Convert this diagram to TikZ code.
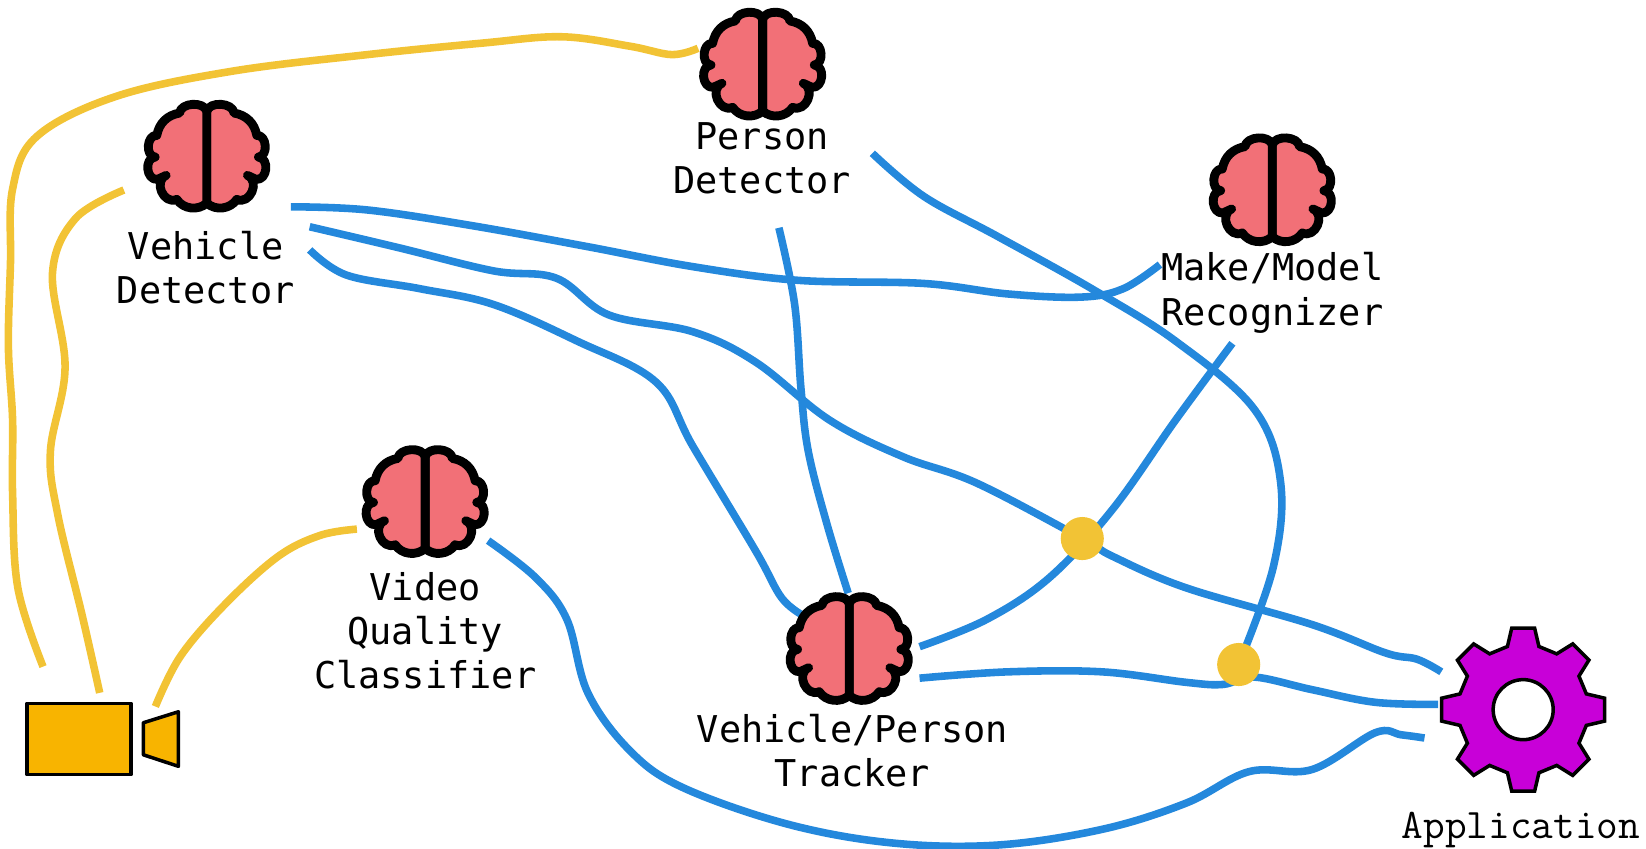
\documentclass[tikz,border=0pt]{standalone}
\usepackage{fontspec}
\newfontfamily\labelfont{DejaVu Sans Mono}
\usetikzlibrary{positioning}
\definecolor{brainred}{HTML}{F27077}
\definecolor{wireblue}{HTML}{2488DC}
\definecolor{wireyellow}{HTML}{F2C335}
\definecolor{camorange}{HTML}{F8B400}
\definecolor{gearpurple}{HTML}{C800D8}

% one half of the brain: mirror factor, bend side
\newcommand{\brainhalf}[2]{
  \draw[fill=brainred,line width=2.4pt,line join=round,scale=0.3175]
    (0,-132) to[bend #2=80] (#1*82,-127)
    to[bend #2=35] (#1*150,-60)
    to[bend #2=90,looseness=1.2] (#1*155,5)
    to[bend #2=90,looseness=1.3] (#1*148,72)
    -- (#1*122,60)
    to[bend #2=90,looseness=1.4] (#1*90,132)
    to[bend #2=50] (0,143) -- cycle;
}

\tikzset{
  bluewire/.style={draw=wireblue,line width=2.05pt},
  yellowwire/.style={draw=wireyellow,line width=2.05pt},
  labeltext/.style={font=\labelfont\fontsize{10}{12}\selectfont,align=center,inner sep=0pt},
  camerapart/.style={draw=black,fill=camorange,line width=0.95pt,line join=round},
  joint/.style={circle,fill=wireyellow,minimum size=11.4mm*0.36,inner sep=0pt},
  brain/.pic={
    \brainhalf{1}{left}
    \brainhalf{-1}{right}
  }
}

\begin{document}
\begin{tikzpicture}[x=0.01cm,y=-0.01cm]
  \useasboundingbox (0,0) rectangle (1568,808.7);

  % wire ends
  \coordinate (camA) at (41,635);
  \coordinate (camB) at (95,660);
  \coordinate (camC) at (148,673);
  \coordinate (persA) at (665,46);
  \coordinate (vehA) at (118,181);
  \coordinate (vidA) at (340,504);
  \coordinate (vehB) at (277,197);
  \coordinate (makeA) at (1105,252);
  \coordinate (vehC) at (295,216);
  \coordinate (appA) at (1373,640);
  \coordinate (vehD) at (295,238);
  \coordinate (trackA) at (768,588);
  \coordinate (persB) at (742,217);
  \coordinate (trackB) at (808,565);
  \coordinate (persC) at (831,146);
  \coordinate (makeB) at (1174,327);
  \coordinate (trackC) at (876,616);
  \coordinate (trackD) at (876,646);
  \coordinate (appB) at (1370,671);
  \coordinate (vidB) at (465,515);
  \coordinate (appC) at (1357,703);
  \coordinate (jointA) at (1031,513);
  \coordinate (jointB) at (1180,633);

  % camera feeds
  \draw[yellowwire] plot[smooth,tension=0.6] coordinates {(camA) (17,560) (12,470) (12,400) (8,330)
    (10,250) (12,180) (35,130) (110,92) (220,68) (350,52) (460,41) (535,35) (600,44) (640,52) (persA)};
  \draw[yellowwire] plot[smooth,tension=0.6] coordinates {(camB) (78,585) (55,490) (48,430) (62,350)
    (50,260) (72,208) (vehA)};
  \draw[yellowwire] plot[smooth,tension=0.6] coordinates {(camC) (172,625) (215,575) (265,530) (305,510) (vidA)};

  % model outputs
  \draw[bluewire] plot[smooth,tension=0.6] coordinates {(vehB) (350,200) (450,215) (560,235) (660,254) (760,267)
    (880,270) (960,280) (1030,283) (1070,275) (makeA)};
  \draw[bluewire] plot[smooth,tension=0.6] coordinates {(vehC) (380,236) (470,258) (530,265) (580,300)
    (660,316) (720,345) (790,400) (860,435) (930,460) (jointA) (1060,530) (1130,560) (1250,595)
    (1320,622) (1350,628) (appA)};
  \draw[bluewire] plot[smooth,tension=0.6] coordinates {(vehD) (330,262) (400,275) (470,290) (550,325)
    (625,364) (660,425) (720,525) (745,570) (trackA)};
  \draw[bluewire] plot[smooth,tension=0.6] coordinates {(persB) (757,290) (763,370) (770,430) (788,500) (trackB)};
  \draw[bluewire] plot[smooth,tension=0.6] coordinates {(persC) (880,187) (950,225) (1040,275) (1120,325)
    (1195,390) (1220,460) (1213,540) (jointB)};
  \draw[bluewire] plot[smooth,tension=0.6] coordinates {(makeB) (1120,400) (1060,485) (1000,550)
    (940,590) (trackC)};
  \draw[bluewire] plot[smooth,tension=0.6] coordinates {(trackD) (960,640) (1050,640) (1130,650)
    (1165,652) (1195,645) (1250,657) (1310,669) (appB)};
  \draw[bluewire] plot[smooth,tension=0.6] coordinates {(vidB) (510,550) (540,590) (560,660) (600,715)
    (650,750) (750,785) (850,803) (950,805) (1050,790) (1130,765) (1190,735) (1250,733) (1310,698)
    (1335,700) (appC)};

  \node[joint] (dotA) at (jointA) {};
  \node[joint] (dotB) at (jointB) {};

  % models
  \pic (persbrain) at (726.5,60.3) {brain};
  \pic (vehbrain) at (197,148) {brain};
  \pic (makebrain) at (1212,180) {brain};
  \pic (vidbrain) at (405,477) {brain};
  \pic (trackbrain) at (809,617) {brain};

  \node[labeltext] (perslabel) at (726,151) {Person\\Detector};
  \node[labeltext] (vehlabel) at (196,255) {Vehicle\\Detector};
  \node[labeltext] (makelabel) at (1212,279) {Make/Model\\Recognizer};
  \node[labeltext] (vidlabel) at (405,601) {Video\\Quality\\Classifier};
  \node[labeltext] (tracklabel) at (812,715) {Vehicle/Person\\Tracker};

  % camera
  \draw[camerapart] (25.7,670) rectangle (124.8,738);
  \draw[camerapart] (136.5,688.5) -- (170,678) -- (170,730) -- (136.5,719) -- cycle;

  % application gear
  \coordinate (gearcenter) at (1451,676);
  \draw[line width=0.95pt,line join=miter,fill=gearpurple,even odd rule,shift={(gearcenter)}]
    (-14:62)
    \foreach \a in {0,45,...,315} {
      -- ({\a-14}:62) -- ({\a-8}:78.4) -- ({\a+8}:78.4) -- ({\a+14}:62)
    } -- cycle
    (0,0) circle (28.6);
  \node[font=\ttfamily\fontsize{11.4}{13}\selectfont,inner sep=0pt] (applabel) at (1449,791) {Application};
\end{tikzpicture}
\end{document}
